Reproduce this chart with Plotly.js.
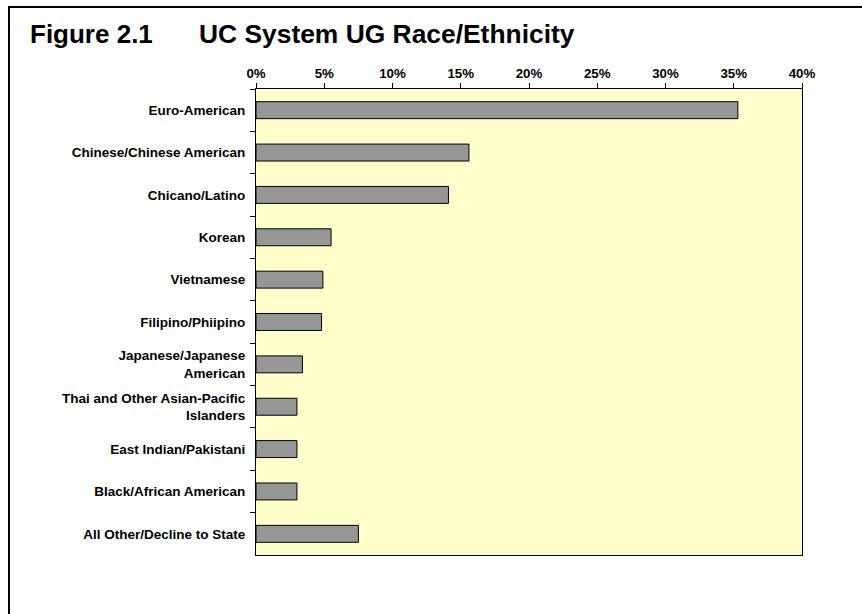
<!DOCTYPE html>
<html>
<head>
<meta charset="utf-8">
<script src="https://cdn.plot.ly/plotly-3.0.1.min.js"></script>
<style>
  html, body { margin: 0; padding: 0; background: #fff; overflow: hidden; }
  #frame { position: absolute; left: 8px; top: 6px; width: 900px; height: 700px; border: 2px solid #000; pointer-events: none; z-index: 5; }
  #chart { position: absolute; left: 0; top: 0; width: 862px; height: 614px; }
</style>
</head>
<body>
<div id="chart"></div>
<div id="frame"></div>
<script>
// Data
const categories = [
  "Euro-American",
  "Chinese/Chinese American",
  "Chicano/Latino",
  "Korean",
  "Vietnamese",
  "Filipino/Phiipino",
  "Japanese/Japanese<br>American",
  "Thai and Other Asian-Pacific<br>Islanders",
  "East Indian/Pakistani",
  "Black/African American",
  "All Other/Decline to State"
];
const shares = [35.3, 15.6, 14.1, 5.5, 4.9, 4.8, 3.4, 3.0, 3.0, 3.0, 7.5];
const xTickVals = [0, 5, 10, 15, 20, 25, 30, 35, 40];
const figureLabel = "Figure 2.1";
const chartTitle = "UC System UG Race/Ethnicity";

const FONT = "Arial, 'Liberation Sans', Helvetica, sans-serif";

const trace = {
  type: "bar",
  orientation: "h",
  x: shares,
  y: categories,
  marker: { color: "#969696", line: { color: "#000000", width: 1 } },
  hoverinfo: "x+y"
};

const layout = {
  width: 862,
  height: 614,
  margin: { l: 256, r: 60, t: 89, b: 59, pad: 0 },
  paper_bgcolor: "#ffffff",
  plot_bgcolor: "#FFFFCC",
  bargap: 0.6,
  showlegend: false,
  font: { family: FONT, color: "#000" },
  title: {
    text: figureLabel,
    font: { family: FONT, size: 26, weight: "bold", color: "#000" },
    xref: "container", x: 30 / 862, xanchor: "left",
    yref: "container", y: 1 - 34 / 614, yanchor: "middle"
  },
  annotations: [{
    text: chartTitle,
    showarrow: false,
    font: { family: FONT, size: 26.4, weight: "bold", color: "#000" },
    xref: "paper", x: (197 - 256) / 546, xanchor: "left",
    yref: "paper", y: (555 - 34) / 466, yanchor: "middle"
  }],
  xaxis: {
    side: "top",
    range: [0, 40],
    tickvals: xTickVals,
    ticktext: xTickVals.map(v => v + "%"),
    ticks: "outside",
    ticklen: 5,
    tickwidth: 1,
    tickcolor: "#000",
    showgrid: false,
    zeroline: false,
    showline: true,
    linecolor: "#000",
    linewidth: 1,
    mirror: true,
    tickfont: { family: FONT, size: 13.3, weight: "bold", color: "#000" },
    fixedrange: true
  },
  yaxis: {
    type: "category",
    autorange: "reversed",
    ticks: "outside",
    tickson: "boundaries",
    ticklen: 5,
    tickwidth: 1,
    tickcolor: "#000",
    showgrid: false,
    zeroline: false,
    showline: true,
    linecolor: "#000",
    linewidth: 1,
    mirror: true,
    ticklabelstandoff: 7,
    tickfont: { family: FONT, size: 13.5, weight: "bold", color: "#000" },
    fixedrange: true
  }
};

Plotly.newPlot("chart", [trace], layout, { displayModeBar: false, staticPlot: true });
</script>
</body>
</html>
